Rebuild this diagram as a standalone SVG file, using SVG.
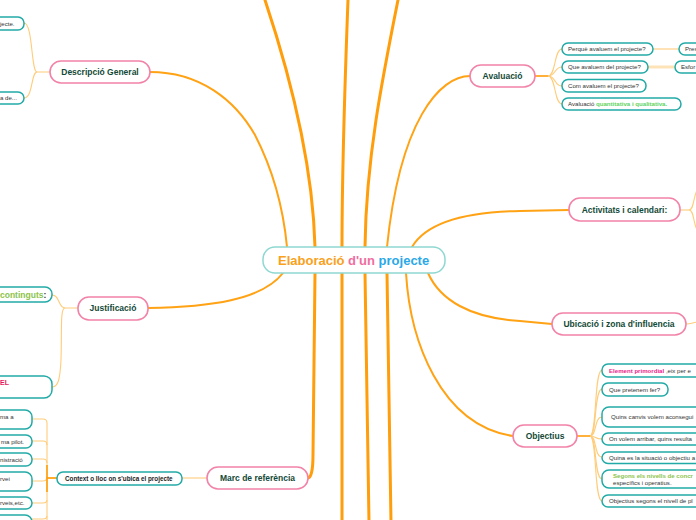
<svg xmlns="http://www.w3.org/2000/svg" width="696" height="520" viewBox="0 0 696 520">
<style>
.main rect{fill:#fff;stroke:#f283a8;stroke-width:1.6}
.main text{font-family:"Liberation Sans",Arial,sans-serif;font-weight:bold;font-size:8.5px;fill:#134a37;text-anchor:middle}
.sub rect{fill:#fff;stroke:#22aaa6;stroke-width:1.5}
.sub text{font-family:"Liberation Sans",Arial,sans-serif;font-size:6.1px;fill:#333}
.thick{fill:none;stroke:#ff9d0a;stroke-width:3;stroke-linecap:round}
.mid{fill:none;stroke:#ffa214;stroke-width:2;stroke-linecap:round}
.thin{fill:none;stroke:#ffcc7a;stroke-width:1.1}
.b{font-weight:bold}
</style>
<rect width="696" height="520" fill="#fff"/>
<g id="connectors">
<path class="thick" d="M265,0 C295,90 313,170 315,247"/>
<path class="thick" d="M348,0 C345,80 342,170 342,247"/>
<path class="thick" d="M398,0 C382,80 366,160 365,247"/>
<path class="mid" d="M150,72 C200,72 235,100 255,135 C272,168 283,205 287,247"/>
<path class="mid" d="M470,76 C440,76 400,120 387,247"/>
<path class="mid" d="M412,247 C425,225 460,212 520,211 L569,210"/>
<path class="mid" d="M148,308 C210,307 262,300 283,273"/>
<path class="mid" d="M428,273 C440,300 470,318 520,321 L552,324"/>
<path class="mid" stroke-width="2.5" d="M406,273 C410,340 440,425 513,436"/>
<path class="thick" d="M315,273 L313,455 C313,470 311,478 308,478"/>
<path class="thick" d="M342,273 L342,522"/>
<path class="thick" d="M365,273 L369,522"/>
<path class="thick" d="M387,273 L391,522"/>
<path class="thin" d="M50,72 H37 C31,72 33,23 24,23"/>
<path class="thin" d="M37,72 C31,72 33,98 24,98"/>
<path class="thin" d="M78,308 H65 C58,308 60,295 52,295"/>
<path class="thin" d="M65,308 C60,308 62,330 61,360 C60,380 58,387 52,387"/>
<path class="thin" stroke-width="1.4" d="M207,478 H182"/>
<path class="thin" d="M57,478 H47 V423 Q47,419 43,419 H32"/>
<path class="thin" d="M47,445 Q47,441 43,441 H32"/>
<path class="thin" d="M47,463 Q47,459 43,459 H32"/>
<path class="thin" d="M57,478 H47 V520"/>
<path class="thin" d="M47,477 Q47,481 43,481 H32"/>
<path class="thin" d="M47,500 Q47,503 43,503 H32"/>
<path class="thin" d="M47,516 Q47,519 43,519 H32"/>
<path fill="none" stroke="#ff9d0a" stroke-width="1.6" d="M57,478 H47 M47,465 V492"/>
<path fill="none" stroke="#ff9d0a" stroke-width="1.6" d="M535,76 H548"/>
<path class="thin" d="M548,76 C556,76 554,49 562,49"/>
<path class="thin" d="M548,76 C556,76 554,67 562,67"/>
<path class="thin" d="M548,76 C556,76 554,86 562,86"/>
<path class="thin" d="M548,76 C556,76 554,104 562,104"/>
<path class="thin" stroke-width="1.3" d="M653,49 H679"/>
<path fill="none" stroke="#ffe3b8" stroke-width="3" d="M648,67 H675"/>
<path class="thin" stroke="#ffb347" stroke-width="1.5" d="M680,210 H689"/>
<path class="thin" d="M689,210 C694,210 693,198 697,190"/>
<path class="thin" d="M689,210 C694,210 693,222 697,230"/>
<path class="thin" stroke="#ffb347" stroke-width="1.5" d="M686,324 C690,324 692,323 697,322"/>
<path fill="none" stroke="#ff9d0a" stroke-width="1.6" d="M577,436 H590"/>
<path class="thin" d="M590,436 C597,436 594,370 602,370"/>
<path class="thin" d="M590,436 C597,436 594,389 602,389"/>
<path class="thin" d="M590,436 C597,436 594,417 602,417"/>
<path class="thin" d="M590,436 C597,436 594,439 602,439"/>
<path class="thin" d="M590,436 C597,436 594,457 602,457"/>
<path class="thin" d="M590,436 C597,436 594,479 602,479"/>
<path class="thin" d="M590,436 C597,436 594,501 602,501"/>
</g>
<g id="center">
<rect x="263" y="247" width="182" height="26" rx="12" fill="#fff" stroke="#8fd8d2" stroke-width="1.5"/>
<text x="278" y="264.5" font-family="Liberation Sans,Arial,sans-serif" font-weight="bold" font-size="13px"><tspan fill="#f9a11b">Elaboració </tspan><tspan fill="#f06ea0">d'un</tspan><tspan fill="#2aa8e8"> projecte</tspan></text>
</g>
<g id="descripcio" class="main"><rect x="50" y="61" width="100" height="22" rx="11"/><text x="100" y="75">Descripció General</text></g>
<g id="desc1" class="sub"><rect x="-10" y="17" width="34" height="13" rx="6"/><text x="0" y="25.5">jecte.</text></g>
<g id="desc2" class="sub"><rect x="-10" y="92" width="34" height="12" rx="6"/><text x="0" y="100">a de...</text></g>
<g id="justificacio" class="main"><rect x="78" y="297" width="70" height="23" rx="11"/><text x="113" y="311">Justificació</text></g>
<g id="just1" class="sub"><rect x="-10" y="287" width="62" height="15" rx="7"/><text x="0" y="297.8" style="font-size:8.5px" class="b"><tspan fill="#8bc34a">continguts</tspan><tspan fill="#333">:</tspan></text></g>
<g id="just2" class="sub"><rect x="-10" y="376" width="62" height="22" rx="8"/><text x="0" y="385" class="b" style="font-size:7px;fill:#e8175d">EL</text></g>
<g id="marc" class="main"><rect x="207" y="467" width="101" height="22" rx="11"/><text x="257.5" y="481">Marc de referència</text></g>
<g id="context" class="sub"><rect x="57" y="472" width="125" height="13" rx="6"/><text x="65" y="480.8" class="b" style="fill:#222;font-size:6.3px">Context o lloc on s'ubica el projecte</text></g>
<g id="ctx1" class="sub"><rect x="-10" y="410" width="42" height="19" rx="7"/><text x="0" y="419">ma a</text></g>
<g id="ctx2" class="sub"><rect x="-10" y="435" width="42" height="13" rx="6"/><text x="1" y="443.5">ma pilot.</text></g>
<g id="ctx3" class="sub"><rect x="-10" y="453" width="42" height="13" rx="6"/><text x="0" y="461.5">nistració</text></g>
<g id="ctx4" class="sub"><rect x="-10" y="472" width="42" height="19" rx="7"/><text x="0" y="481">rvei</text></g>
<g id="ctx5" class="sub"><rect x="-10" y="497" width="42" height="12" rx="6"/><text x="0" y="505">rveis,etc.</text></g>
<g id="ctx6" class="sub"><rect x="-10" y="515" width="42" height="20" rx="7"/></g>
<g id="avaluacio" class="main"><rect x="470" y="65" width="65" height="22" rx="11"/><text x="502.5" y="79">Avaluació</text></g>
<g id="av1" class="sub"><rect x="562" y="43" width="91" height="12" rx="6"/><text x="568" y="51.2">Perquè avaluem el projecte?</text></g>
<g id="av2" class="sub"><rect x="562" y="61" width="86" height="12" rx="6"/><text x="568" y="69.2">Que avaluem del projecte?</text></g>
<g id="av3" class="sub"><rect x="562" y="79.5" width="84" height="12.5" rx="6"/><text x="568" y="88">Com avaluem el projecte?</text></g>
<g id="av4" class="sub"><rect x="562" y="98" width="119" height="12" rx="6"/><text x="568" y="106.2">Avaluació <tspan class="b" style="fill:#5fd35f">quantitativa i qualitativa.</tspan></text></g>
<g id="av1a" class="sub"><rect x="679" y="43" width="30" height="12" rx="6"/><text x="685" y="51.2">Pres</text></g>
<g id="av2a" class="sub"><rect x="675" y="61" width="30" height="12" rx="6"/><text x="681" y="69.2">Esfor</text></g>
<g id="activitats" class="main"><rect x="569" y="198" width="111" height="23" rx="11"/><text x="624.5" y="212.5">Activitats i calendari:</text></g>
<g id="ubicacio" class="main"><rect x="552" y="313" width="134" height="22" rx="11"/><text x="619" y="327">Ubicació i zona d'influencia</text></g>
<g id="objectius" class="main"><rect x="513" y="425" width="64" height="22" rx="11"/><text x="545" y="439">Objectius</text></g>
<g id="ob1" class="sub"><rect x="602" y="364" width="100" height="13" rx="6"/><text x="609" y="372.5"><tspan class="b" style="fill:#e91e8c">Element primordial</tspan> ,eix per e</text></g>
<g id="ob2" class="sub"><rect x="602" y="383" width="66" height="13" rx="6"/><text x="609" y="391.5">Que pretenem fer?</text></g>
<g id="ob3" class="sub"><rect x="602" y="407" width="100" height="20" rx="7"/><text x="611" y="419">Quins canvis volem aconsegui</text></g>
<g id="ob4" class="sub"><rect x="602" y="433" width="100" height="12" rx="6"/><text x="609" y="441">On volem arribar, quins resulta</text></g>
<g id="ob5" class="sub"><rect x="602" y="452" width="100" height="11.5" rx="6"/><text x="609" y="459.8">Quina es la situació o objectiu a</text></g>
<g id="ob6" class="sub"><rect x="602" y="470" width="100" height="18" rx="7"/><text x="613" y="477.5"><tspan class="b" style="fill:#8bc34a">Segons els nivells de concr</tspan></text><text x="613" y="484.5">específics i operatius.</text></g>
<g id="ob7" class="sub"><rect x="602" y="495" width="100" height="12" rx="6"/><text x="609" y="503">Objectius segons el nivell de pl</text></g>
</svg>
